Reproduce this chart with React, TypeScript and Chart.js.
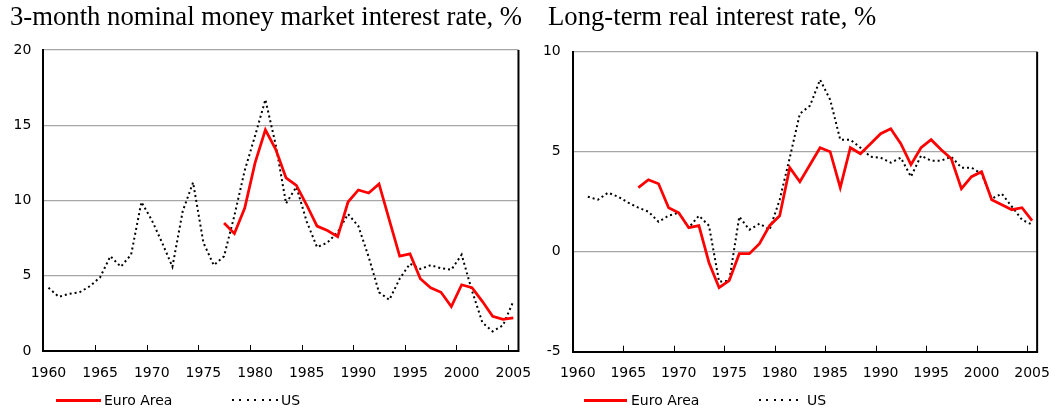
import React, { useEffect, useRef } from 'react';
import { Chart, registerables } from 'chart.js';

Chart.register(...registerables);

// ---------- DATA ----------
const years = [
  '1960', '1961', '1962', '1963', '1964', '1965', '1966', '1967', '1968', '1969',
  '1970', '1971', '1972', '1973', '1974', '1975', '1976', '1977', '1978', '1979',
  '1980', '1981', '1982', '1983', '1984', '1985', '1986', '1987', '1988', '1989',
  '1990', '1991', '1992', '1993', '1994', '1995', '1996', '1997', '1998', '1999',
  '2000', '2001', '2002', '2003', '2004', '2005',
];

// 3-month nominal money market interest rate, %
const nominalEuro = [
  null, null, null, null, null, null, null, null, null, null,
  null, null, null, null, null, null, null, 8.5, 7.8, 9.5,
  12.5, 14.7, 13.4, 11.5, 11.0, 9.7, 8.3, 8.0, 7.6, 9.9,
  10.7, 10.5, 11.1, 8.7, 6.3, 6.45, 4.8, 4.2, 3.9, 2.95,
  4.4, 4.2, 3.3, 2.3, 2.1, 2.2,
];
const nominalUS = [
  4.2, 3.6, 3.8, 3.9, 4.3, 4.9, 6.3, 5.6, 6.4, 9.9,
  8.7, 7.2, 5.6, 9.3, 11.2, 7.2, 5.7, 6.3, 9.0, 12.0,
  14.3, 16.7, 13.7, 9.8, 10.9, 8.6, 6.9, 7.2, 7.9, 9.1,
  8.3, 6.25, 3.9, 3.4, 4.8, 5.8, 5.45, 5.7, 5.5, 5.4,
  6.4, 4.0, 1.9, 1.3, 1.7, 3.3,
];

// Long-term real interest rate, %
const realEuro = [
  null, null, null, null, null, null, 3.2, 3.6, 3.4, 2.2,
  1.95, 1.2, 1.3, -0.55, -1.8, -1.45, -0.1, -0.1, 0.4, 1.3,
  1.8, 4.2, 3.5, 4.35, 5.2, 5.0, 3.2, 5.2, 4.9, 5.4,
  5.9, 6.15, 5.4, 4.35, 5.2, 5.6, 5.1, 4.65, 3.15, 3.75,
  4.0, 2.6, 2.35, 2.1, 2.2, 1.55,
];
const realUS = [
  null, 2.75, 2.6, 2.95, 2.75, 2.45, 2.2, 2.0, 1.5, 1.8,
  1.95, 1.2, 1.8, 1.3, -1.5, -1.45, 1.75, 1.1, 1.4, 1.1,
  2.6, 4.7, 6.9, 7.3, 8.6, 7.6, 5.6, 5.6, 5.2, 4.75,
  4.7, 4.45, 4.7, 3.75, 4.8, 4.55, 4.55, 4.75, 4.2, 4.2,
  3.9, 2.65, 2.9, 2.25, 1.6, 1.35,
];

const nominalRange = [0, 20];
const realRange = [-5, 10];
const tickStep = 5;
const labelEvery = 5;

const seriesNames = ['Euro Area', 'US'];
const titles = ['3-month nominal money market interest rate, %', 'Long-term real interest rate, %'];

// ---------- STYLE ----------
const SANS = "'DejaVu Sans', Verdana, sans-serif";
const SERIF = "'Liberation Serif', 'Times New Roman', serif";
const RED = '#FF0000';
const GRID = '#A6A6A6';

const framePlugin = {
  id: 'frameTicks',
  beforeDatasetsDraw(chart: any) {
    const { ctx, chartArea, scales } = chart;
    const { top, bottom, right } = chartArea;
    const x = scales.x;
    ctx.save();
    // inward tick marks every 5 years (between categories)
    const half = (x.getPixelForValue(1) - x.getPixelForValue(0)) / 2;
    ctx.strokeStyle = '#000';
    ctx.lineWidth = 1;
    ctx.beginPath();
    for (let i = 1; i < years.length; i++) {
      if (Number(years[i]) % labelEvery === 0) {
        const px = Math.round(x.getPixelForValue(i) - half) + 0.5;
        ctx.moveTo(px, bottom);
        ctx.lineTo(px, bottom - 6);
      }
    }
    ctx.stroke();
    // right frame border
    ctx.lineWidth = 2;
    ctx.beginPath();
    ctx.moveTo(right, top);
    ctx.lineTo(right, bottom + 1);
    ctx.stroke();
    ctx.restore();
  },
};

type PanelProps = {
  us: (number | null)[];
  euro: (number | null)[];
  range: number[];
  width: number;
  yWidth: number;
  pad: { top: number; right: number; bottom: number };
  xPad: number;
};

function Panel({ us, euro, range, width, yWidth, pad, xPad }: PanelProps) {
  const ref = useRef<HTMLCanvasElement>(null);
  useEffect(() => {
    if (!ref.current) return;
    const chart = new Chart(ref.current, {
      type: 'line',
      data: {
        labels: years,
        datasets: [
          {
            label: seriesNames[0],
            data: euro,
            borderColor: RED,
            backgroundColor: RED,
            borderWidth: 2.75,
            pointRadius: 0,
            tension: 0,
            fill: false,
            spanGaps: false,
            order: 0,
          },
          {
            label: seriesNames[1],
            data: us,
            borderColor: '#000',
            backgroundColor: '#000',
            borderWidth: 2,
            borderDash: [2, 3],
            pointRadius: 0,
            tension: 0,
            fill: false,
            spanGaps: false,
            order: 1,
          },
        ],
      },
      options: {
        responsive: false,
        animation: false,
        events: [],
        layout: { padding: { top: pad.top, right: pad.right, bottom: pad.bottom, left: 0 } },
        plugins: {
          legend: { display: false },
          title: { display: false },
          tooltip: { enabled: false },
        },
        scales: {
          x: {
            type: 'category',
            offset: true,
            grid: { display: false, drawTicks: false, offset: true },
            border: { display: true, color: '#000', width: 2 },
            ticks: {
              autoSkip: false,
              maxRotation: 0,
              minRotation: 0,
              padding: xPad,
              color: '#000',
              font: { family: SANS, size: 14 },
              callback: (_v: any, i: number) =>
                Number(years[i]) % labelEvery === 0 ? years[i] : '',
            },
            afterFit: (s: any) => {
              s.height = 40;
            },
          },
          y: {
            min: range[0],
            max: range[1],
            ticks: {
              stepSize: tickStep,
              padding: 12,
              color: '#000',
              font: { family: SANS, size: 14 },
            },
            grid: { color: GRID, lineWidth: 1.3, drawTicks: false },
            border: { display: true, color: '#000', width: 2 },
            afterFit: (s: any) => {
              s.width = yWidth;
            },
          },
        },
      },
      plugins: [framePlugin],
    } as any);
    return () => chart.destroy();
  }, []);
  return <canvas ref={ref} width={width} height={411} style={{ width, height: 411, display: 'block' }} />;
}

function Legend({ left, lineW, textGap, usLeft }: { left: number; lineW: number; textGap: number; usLeft: number }) {
  const textStyle: React.CSSProperties = {
    position: 'absolute',
    top: 392,
    fontFamily: SANS,
    fontSize: 14,
    lineHeight: '16px',
    color: '#000',
    whiteSpace: 'nowrap',
  };
  return (
    <>
      <div style={{ position: 'absolute', left, top: 398.5, width: lineW, height: 3, background: RED }} />
      <div style={{ ...textStyle, left: left + lineW + textGap }}>{seriesNames[0]}</div>
      <div
        style={{
          position: 'absolute',
          left: usLeft,
          top: 399,
          width: lineW + 1,
          height: 2,
          background: 'repeating-linear-gradient(90deg, #000 0px, #000 2px, transparent 2px, transparent 7.4px)',
        }}
      />
      <div style={{ ...textStyle, left: usLeft + lineW + textGap + 1 }}>{seriesNames[1]}</div>
    </>
  );
}

export default function App() {
  const titleStyle: React.CSSProperties = {
    position: 'absolute',
    top: 1,
    fontFamily: SERIF,
    fontSize: 26.7,
    lineHeight: '30px',
    color: '#000',
    whiteSpace: 'nowrap',
  };
  return (
    <div style={{ position: 'absolute', left: 0, top: 0, width: 1063, height: 411, background: '#fff', overflow: 'hidden' }}>
      <div style={{ position: 'absolute', left: 0, top: 0 }}>
        <Panel
          us={nominalUS}
          euro={nominalEuro}
          range={nominalRange}
          width={545}
          yWidth={43.3}
          pad={{ top: 50, right: 25.7, bottom: 20 }}
          xPad={13.6}
        />
      </div>
      <div style={{ position: 'absolute', left: 530, top: 0 }}>
        <Panel
          us={realUS}
          euro={realEuro}
          range={realRange}
          width={533}
          yWidth={42.7}
          pad={{ top: 51.7, right: 18, bottom: 19.3 }}
          xPad={12.9}
        />
      </div>
      <div style={{ ...titleStyle, left: 10 }}>{titles[0]}</div>
      <div style={{ ...titleStyle, left: 548 }}>{titles[1]}</div>
      <Legend left={56} lineW={45} textGap={3} usLeft={232} />
      <Legend left={584} lineW={43} textGap={4} usLeft={759} />
    </div>
  );
}
